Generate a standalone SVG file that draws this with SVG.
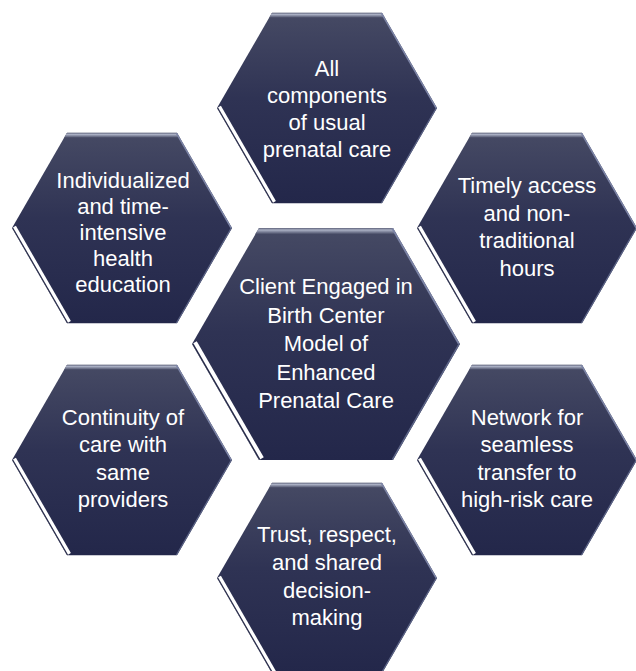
<svg xmlns="http://www.w3.org/2000/svg" xmlns:xlink="http://www.w3.org/1999/xlink" width="636" height="671" viewBox="0 0 636 671">
  <defs>
    <linearGradient id="fillGrad" x1="0" y1="0" x2="0" y2="1">
      <stop offset="0" stop-color="#464a64"/>
      <stop offset="0.45" stop-color="#2f3354"/>
      <stop offset="1" stop-color="#23274a"/>
    </linearGradient>
    <linearGradient id="topGrad" x1="0" y1="0" x2="0" y2="1">
      <stop offset="0" stop-color="#5c6078"/>
      <stop offset="0.35" stop-color="#aab0c4"/>
      <stop offset="1" stop-color="#4a4e68"/>
    </linearGradient>
    <polygon id="hex" points="-110,0 -55,-95.3 55,-95.3 110,0 55,95.3 -55,95.3"/>
    <clipPath id="hexClip">
      <use xlink:href="#hex"/>
    </clipPath>
    <g id="hexShape">
      <use xlink:href="#hex" fill="url(#fillGrad)"/>
      <g clip-path="url(#hexClip)">
        <rect x="-60" y="-95.3" width="120" height="5" fill="url(#topGrad)"/>
        <line x1="55" y1="-95.3" x2="110" y2="0" stroke="#7c84a6" stroke-width="3"/>
        <line x1="110" y1="0" x2="55" y2="95.3" stroke="#5c6486" stroke-width="2.5"/>
        <line x1="-110" y1="0" x2="-55" y2="95.3" stroke="#ffffff" stroke-width="9"/>
        <line x1="-110" y1="0" x2="-55" y2="95.3" stroke="#262a48" stroke-width="2.5"/>
      </g>
    </g>
    <style>
      .lbl { font-family: "Liberation Sans", Arial, sans-serif; font-size: 22px; fill: #ffffff; text-anchor: middle; }
    </style>
  </defs>
  <rect width="636" height="671" fill="#ffffff"/>
  <g id="connectors"/>

  <g id="node-center">
    <use xlink:href="#hexShape" transform="translate(326,344) scale(1.218)"/>
    <text class="lbl" x="326" y="294">Client Engaged in</text>
    <text class="lbl" x="326" y="322.5">Birth Center</text>
    <text class="lbl" x="326" y="351">Model of</text>
    <text class="lbl" x="326" y="379.5">Enhanced</text>
    <text class="lbl" x="326" y="408">Prenatal Care</text>
  </g>

  <g id="node-top">
    <use xlink:href="#hexShape" transform="translate(327,108)"/>
    <text class="lbl" x="327" y="76">All</text>
    <text class="lbl" x="327" y="103">components</text>
    <text class="lbl" x="327" y="130">of usual</text>
    <text class="lbl" x="327" y="157">prenatal care</text>
  </g>

  <g id="node-upper-left">
    <use xlink:href="#hexShape" transform="translate(122,228)"/>
    <text class="lbl" x="123" y="188">Individualized</text>
    <text class="lbl" x="123" y="214">and time-</text>
    <text class="lbl" x="123" y="240">intensive</text>
    <text class="lbl" x="123" y="266">health</text>
    <text class="lbl" x="123" y="292">education</text>
  </g>

  <g id="node-upper-right">
    <use xlink:href="#hexShape" transform="translate(527,228)"/>
    <text class="lbl" x="527" y="193">Timely access</text>
    <text class="lbl" x="527" y="220.5">and non-</text>
    <text class="lbl" x="527" y="248">traditional</text>
    <text class="lbl" x="527" y="275.5">hours</text>
  </g>

  <g id="node-lower-left">
    <use xlink:href="#hexShape" transform="translate(122,460)"/>
    <text class="lbl" x="123" y="425">Continuity of</text>
    <text class="lbl" x="123" y="452">care with</text>
    <text class="lbl" x="123" y="479.5">same</text>
    <text class="lbl" x="123" y="507">providers</text>
  </g>

  <g id="node-lower-right">
    <use xlink:href="#hexShape" transform="translate(527,460)"/>
    <text class="lbl" x="527" y="425">Network for</text>
    <text class="lbl" x="527" y="452">seamless</text>
    <text class="lbl" x="527" y="479.5">transfer to</text>
    <text class="lbl" x="527" y="507">high-risk care</text>
  </g>

  <g id="node-bottom">
    <use xlink:href="#hexShape" transform="translate(327,578)"/>
    <text class="lbl" x="327" y="542">Trust, respect,</text>
    <text class="lbl" x="327" y="570">and shared</text>
    <text class="lbl" x="327" y="598">decision-</text>
    <text class="lbl" x="327" y="625">making</text>
  </g>
</svg>
